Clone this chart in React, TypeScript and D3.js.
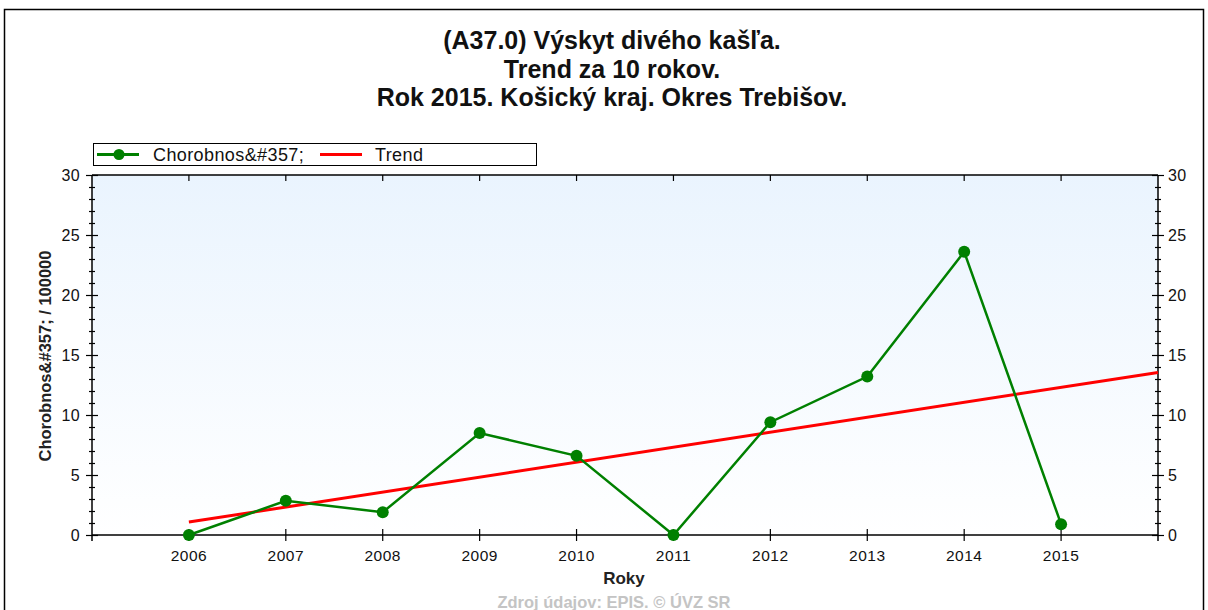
import React from "react";
import * as d3 from "d3";

const years = [2006, 2007, 2008, 2009, 2010, 2011, 2012, 2013, 2014, 2015];
const morbidity = [0, 2.85, 1.9, 8.5, 6.6, 0, 9.4, 13.2, 23.6, 0.9];
const trendYears = [2006, 2016];
const trendValues = [1.08, 13.55];
const yTicks = [0, 5, 10, 15, 20, 25, 30];
const titleLines = [
  "(A37.0) Výskyt divého kašľa.",
  "Trend za 10 rokov.",
  "Rok 2015. Košický kraj. Okres Trebišov.",
];

const W = 1208;
const H = 610;
const left = 92;
const right = 1158;
const top = 175;
const bottom = 535;
const font = "Arial, 'Liberation Sans', sans-serif";

export default function App() {
  const x = d3.scaleLinear().domain([2005, 2016]).range([left, right]);
  const y = d3.scaleLinear().domain([0, 30]).range([bottom, top]);
  const line = d3
    .line<[number, number]>()
    .x((d) => x(d[0]))
    .y((d) => y(d[1]));
  const dataPts: [number, number][] = years.map((yr, i) => [yr, morbidity[i]]);
  const trendPts: [number, number][] = trendYears.map((yr, i) => [yr, trendValues[i]]);
  const minor = d3.range(0, 31, 1);

  return (
    <svg
      width={W}
      height={H}
      style={{ position: "absolute", left: 0, top: 0, fontFamily: font }}
    >
      <defs>
        <linearGradient id="bg" x1="0" y1="0" x2="0" y2="1">
          <stop offset="0" stopColor="#eaf4fe" />
          <stop offset="1" stopColor="#ffffff" />
        </linearGradient>
      </defs>
      <rect x={0} y={0} width={W} height={H} fill="#fff" />
      <rect x={4.5} y={9.5} width={1199} height={620} fill="#fff" stroke="#000" strokeWidth={1.5} />
      {titleLines.map((t, i) => (
        <text
          key={i}
          x={612}
          y={49 + i * 28.5}
          textAnchor="middle"
          fontSize={25}
          fontWeight="bold"
          fill="#111"
        >
          {t}
        </text>
      ))}
      {/* legend */}
      <rect x={93.5} y={143.5} width={443} height={22} fill="#fff" stroke="#000" strokeWidth={1} />
      <line x1={97} x2={139} y1={154.5} y2={154.5} stroke="#008000" strokeWidth={3} />
      <circle cx={119} cy={154.5} r={5.5} fill="#008000" />
      <text x={153} y={161} fontSize={18} letterSpacing={0.4} fill="#111">Chorobnos&amp;#357;</text>
      <line x1={320} x2={362} y1={154.5} y2={154.5} stroke="#ff0000" strokeWidth={3} />
      <text x={375} y={161} fontSize={18} letterSpacing={0.4} fill="#111">Trend</text>

      {/* plot */}
      <rect x={left} y={top} width={right - left} height={bottom - top} fill="url(#bg)" />
      <line x1={left} x2={right} y1={top} y2={top} stroke="#000" strokeWidth={1.5} />
      <line x1={left} x2={right} y1={bottom} y2={bottom} stroke="#000" strokeWidth={1.5} />
      <line x1={left} x2={left} y1={top} y2={bottom + 6} stroke="#000" strokeWidth={1.5} />
      <line x1={right} x2={right} y1={top} y2={bottom + 6} stroke="#000" strokeWidth={1.5} />

      {minor.map((v) => {
        const major = v % 5 === 0;
        const yy = Math.round(y(v)) + 0.5;
        return (
          <g key={v}>
            <line x1={major ? left - 6 : left - 3} x2={major ? left + 6 : left + 3} y1={yy} y2={yy} stroke="#000" strokeWidth={1.2} />
            <line x1={major ? right - 6 : right - 3} x2={major ? right + 6 : right + 3} y1={yy} y2={yy} stroke="#000" strokeWidth={1.2} />
          </g>
        );
      })}
      {yTicks.map((v) => (
        <g key={v}>
          <text x={left - 12} y={y(v) + 6} textAnchor="end" fontSize={16} letterSpacing={0.3} fill="#111">{v}</text>
          <text x={right + 10} y={y(v) + 6} textAnchor="start" fontSize={16} letterSpacing={0.3} fill="#111">{v}</text>
        </g>
      ))}
      {years.map((yr) => (
        <g key={yr}>
          <line x1={x(yr)} x2={x(yr)} y1={bottom - 6} y2={bottom + 6} stroke="#000" strokeWidth={1.2} />
          <line x1={x(yr)} x2={x(yr)} y1={top} y2={top + 6} stroke="#000" strokeWidth={1.2} />
          <text x={x(yr)} y={bottom + 26} textAnchor="middle" fontSize={15.5} letterSpacing={0.5} fill="#111">{yr}</text>
        </g>
      ))}

      <path d={line(trendPts) || ""} fill="none" stroke="#ff0000" strokeWidth={3} />
      <path d={line(dataPts) || ""} fill="none" stroke="#008000" strokeWidth={2.5} />
      {dataPts.map((d, i) => (
        <circle key={i} cx={x(d[0])} cy={y(d[1])} r={6} fill="#008000" />
      ))}

      <text
        transform={`translate(51,356) rotate(-90)`}
        textAnchor="middle"
        fontSize={16.5}
        fontWeight="bold"
        fill="#222"
      >
        Chorobnos&amp;#357; / 100000
      </text>
      <text x={624} y={584} textAnchor="middle" fontSize={17} fontWeight="bold" fill="#222">Roky</text>
      <text x={614} y={608} textAnchor="middle" fontSize={16.5} fontWeight="bold" fill="#c4c4c4">
        Zdroj údajov: EPIS. © ÚVZ SR
      </text>
    </svg>
  );
}
